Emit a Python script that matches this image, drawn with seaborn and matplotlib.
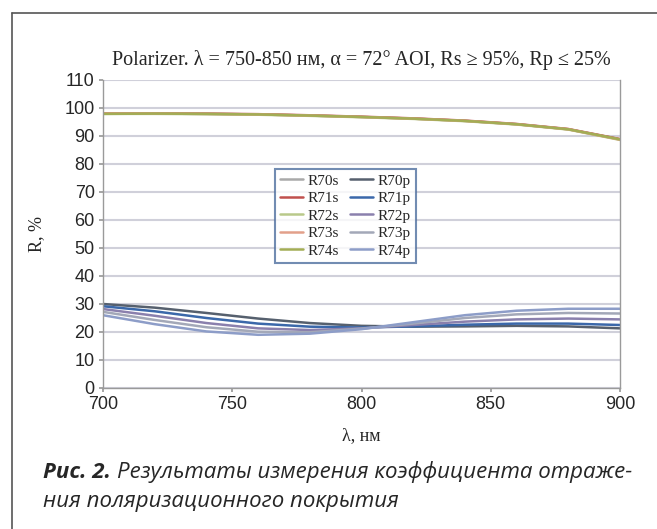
import numpy as np
import pandas as pd
import matplotlib
matplotlib.use("Agg")
import matplotlib.pyplot as plt
from matplotlib.lines import Line2D
import seaborn as sns

wavelength = [700, 720, 740, 760, 780, 800, 820, 840, 860, 880, 900]

R70s = [98.0, 98.0, 97.9, 97.7, 97.3, 96.8, 96.2, 95.4, 94.2, 92.4, 88.8]
R71s = [98.1, 98.1, 98.0, 97.8, 97.4, 96.9, 96.3, 95.5, 94.3, 92.5, 88.9]
R72s = [97.9, 97.9, 97.8, 97.6, 97.2, 96.7, 96.1, 95.3, 94.1, 92.3, 88.6]
R73s = [98.0, 98.0, 97.9, 97.7, 97.3, 96.8, 96.2, 95.4, 94.2, 92.4, 88.7]
R74s = [97.9, 98.0, 97.9, 97.7, 97.3, 96.8, 96.2, 95.4, 94.2, 92.4, 88.8]

R70p = [30.0, 28.7, 26.8, 24.8, 23.2, 22.2, 21.9, 22.0, 22.2, 22.0, 21.3]
R71p = [29.2, 27.4, 25.0, 23.0, 21.9, 21.6, 22.0, 22.6, 23.0, 23.0, 22.5]
R72p = [28.2, 25.8, 23.2, 21.3, 20.7, 21.3, 22.5, 23.7, 24.5, 24.8, 24.5]
R73p = [27.2, 24.3, 21.7, 20.1, 19.9, 21.2, 23.0, 25.0, 26.3, 26.8, 26.6]
R74p = [26.0, 22.8, 20.2, 19.0, 19.4, 21.0, 23.5, 26.0, 27.6, 28.3, 28.3]

series = {
    "R70s": R70s, "R70p": R70p,
    "R71s": R71s, "R71p": R71p,
    "R72s": R72s, "R72p": R72p,
    "R73s": R73s, "R73p": R73p,
    "R74s": R74s, "R74p": R74p,
}
s_names = ["R70s", "R71s", "R72s", "R73s", "R74s"]
p_names = ["R70p", "R71p", "R72p", "R73p", "R74p"]

colors = {
    "R70s": "#a9a9a9", "R71s": "#c0504d", "R72s": "#b9c98a",
    "R73s": "#e2a08a", "R74s": "#a3ad55",
    "R70p": "#56606e", "R71p": "#3b68aa", "R72p": "#8a80ad",
    "R73p": "#a3a8b8", "R74p": "#8d9dc8",
}

rows = []
for name in s_names + p_names:
    for w, v in zip(wavelength, series[name]):
        rows.append({"wl": w, "R": v, "series": name})
df = pd.DataFrame(rows)

sns.set_theme(style="white")
plt.rcParams["font.family"] = ["Liberation Serif", "DejaVu Serif"]

fig = plt.figure(figsize=(6.57, 5.29), dpi=100)
ax = fig.add_axes([103/657, 1-388/529, (620-103)/657, (388-80)/529])

hue_order = s_names + p_names
sns.lineplot(data=df, x="wl", y="R", hue="series", hue_order=hue_order,
             palette=colors, linewidth=1.8, ax=ax, legend=False)

ax.set_xlim(700, 900)
ax.set_ylim(0, 110)
ax.set_xticks([700, 750, 800, 850, 900])
ax.set_yticks(range(0, 111, 10))
ax.grid(axis="y", color="#d0d0da", linewidth=1.5)
ax.set_axisbelow(True)
for side in ["left", "right", "bottom"]:
    ax.spines[side].set_color("#9a9a9a")
    ax.spines[side].set_linewidth(1.0)
ax.spines["top"].set_visible(False)
ax.tick_params(axis="both", labelsize=13, length=3, color="#9a9a9a",
               direction="out", bottom=True, left=True, pad=3)
for lab in ax.get_xticklabels() + ax.get_yticklabels():
    lab.set_fontfamily(["Liberation Sans", "DejaVu Sans"])

ax.set_xlabel("λ, нм", fontsize=13, labelpad=10)
ax.set_ylabel("R, %", fontsize=13, labelpad=14)
ax.set_title("Polarizer. λ = 750-850 нм, α = 72° AOI, Rs ≥ 95%, Rp ≤ 25%",
             fontsize=14.5, pad=11)

handles = [Line2D([], [], color=colors[n], linewidth=1.8) for n in hue_order]
leg = ax.legend(handles, hue_order, ncol=2, loc="upper left",
                bbox_to_anchor=(0.318, 0.737), frameon=True, fancybox=False,
                fontsize=11, handlelength=1.5, handletextpad=0.3,
                columnspacing=0.7, labelspacing=0.25, borderpad=0.35)
leg.get_frame().set_edgecolor("#4f6f9f")
leg.get_frame().set_linewidth(1.5)

fig.add_artist(Line2D([12/657, 1.0], [1-13/529, 1-13/529], color="#555555",
                      linewidth=1.2, transform=fig.transFigure))
fig.add_artist(Line2D([12/657, 12/657], [0, 1-13/529], color="#555555",
                      linewidth=1.2, transform=fig.transFigure))

cap_font = ["Open Sans", "DejaVu Sans"]
t1 = fig.text(43/657, 1-472/529, "Рис. 2.", fontsize=16, fontweight="bold",
              fontstyle="italic", family=cap_font, va="center", ha="left")
fig.canvas.draw()
bb = t1.get_window_extent()
x2 = (bb.x1 + 6) / fig.bbox.width
fig.text(x2, 1-472/529, "Результаты измерения коэффициента отраже-",
         fontsize=16, fontstyle="italic", family=cap_font, va="center", ha="left")
fig.text(43/657, 1-502/529, "ния поляризационного покрытия",
         fontsize=16, fontstyle="italic", family=cap_font, va="center", ha="left")

fig.savefig("out.png", dpi=100)
